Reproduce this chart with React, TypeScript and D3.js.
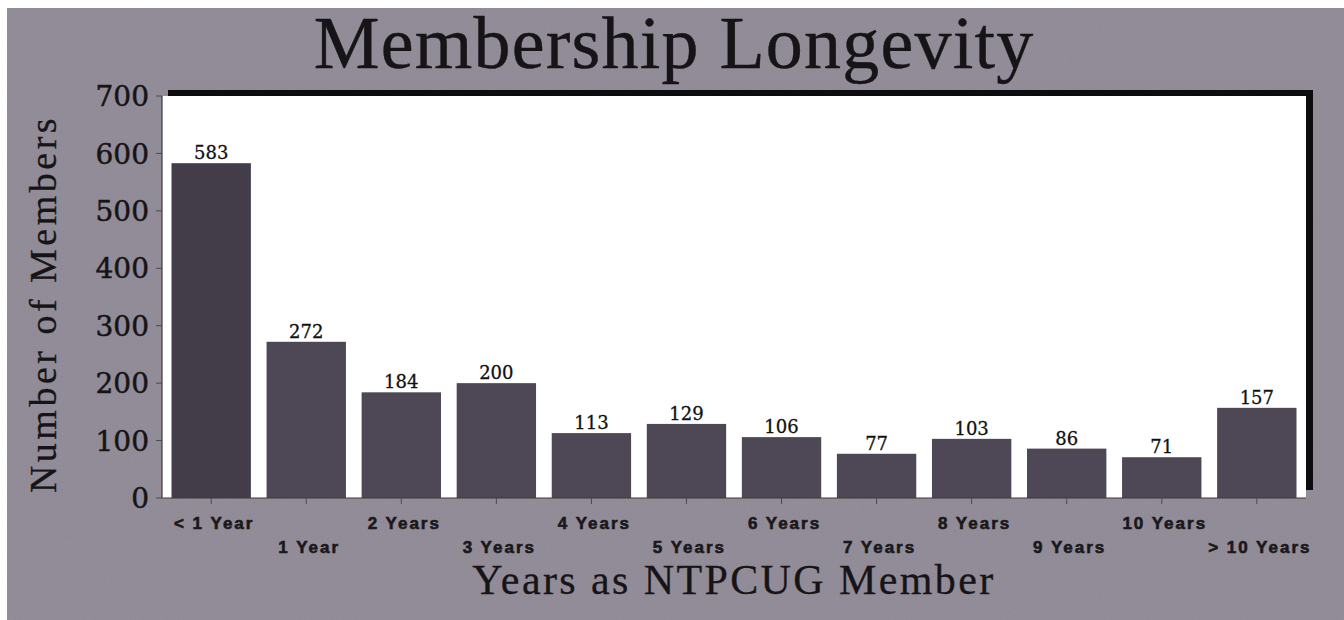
import * as d3 from 'd3';

const categories = ['< 1 Year', '1 Year', '2 Years', '3 Years', '4 Years', '5 Years', '6 Years', '7 Years', '8 Years', '9 Years', '10 Years', '> 10 Years'];
const members = [583, 272, 184, 200, 113, 129, 106, 77, 103, 86, 71, 157];
const yTicks = [0, 100, 200, 300, 400, 500, 600, 700];

const W = 1344;
const H = 620;
const plot = { left: 162, right: 1306, top: 96, bottom: 498 };

const serif = '"Liberation Serif", "Times New Roman", serif';
const bookSerif = '"DejaVu Serif", serif';
const sans = '"Liberation Sans", Arial, sans-serif';
const ink = '#161416';

export default function App() {
  const x = d3.scaleBand<string>()
    .domain(categories)
    .range([plot.left, plot.right])
    .paddingInner(0.165)
    .paddingOuter(0.1);

  const y = d3.scaleLinear()
    .domain([0, 700])
    .range([plot.bottom, plot.top]);

  return (
    <div style={{ position: 'fixed', left: 0, top: 0, width: W, height: H, background: '#fff' }}>
      <svg width={W} height={H} style={{ display: 'block' }}>
        <defs>
          <filter id="grain" x="0" y="0" width="100%" height="100%">
            <feTurbulence type="fractalNoise" baseFrequency="0.9" numOctaves={2} seed={3} result="n" />
            <feColorMatrix type="matrix" values="0 0 0 0 0.5  0 0 0 0 0.48  0 0 0 0 0.55  0 0 0 0.35 0" />
          </filter>
        </defs>

        {/* scanned page background */}
        <rect x={7} y={8} width={W - 7} height={H - 8} fill="#8d8893" />
        <rect x={7} y={8} width={W - 7} height={H - 8} filter="url(#grain)" opacity={0.5} />

        {/* title */}
        <text x={674} y={68} textAnchor="middle" fontFamily={serif} fontSize={74} letterSpacing={1.2}
          fill={ink} stroke={ink} strokeWidth={0.4}>
          Membership Longevity
        </text>

        {/* plot frame with shadow */}
        <rect x={plot.left + 6} y={plot.top - 6} width={plot.right - plot.left + 1} height={plot.bottom - plot.top - 2} fill="#0d0c0e" />
        <rect x={plot.left} y={plot.top} width={plot.right - plot.left} height={plot.bottom - plot.top} fill="#ffffff" />

        {/* bars */}
        {members.map((v, i) => (
          <rect
            key={categories[i]}
            x={x(categories[i])}
            y={y(v)}
            width={x.bandwidth()}
            height={y(0) - y(v)}
            fill={i === 0 ? '#433d4a' : '#4d4756'}
          />
        ))}

        {/* value labels */}
        {members.map((v, i) => (
          <text
            key={'v' + i}
            x={(x(categories[i]) ?? 0) + x.bandwidth() / 2}
            y={y(v) - 4}
            textAnchor="middle"
            fontFamily={bookSerif}
            fontSize={18}
            fill="#111"
            stroke="#111"
            strokeWidth={0.3}
          >
            {v}
          </text>
        ))}

        {/* axes */}
        <line x1={plot.left} x2={plot.left} y1={plot.top} y2={plot.bottom} stroke="#3a3a3a" strokeWidth={1.2} />
        <line x1={plot.left} x2={plot.right} y1={plot.bottom} y2={plot.bottom} stroke="#3a3a3a" strokeWidth={1.2} />

        {yTicks.map(t => (
          <g key={'y' + t}>
            <line x1={plot.left - 6} x2={plot.left} y1={y(t)} y2={y(t)} stroke="#4a4a4a" />
            <text x={plot.left - 13} y={y(t)} dy="0.36em" textAnchor="end" fontFamily={bookSerif} fontSize={28}
              fill={ink} stroke={ink} strokeWidth={0.5}>
              {t}
            </text>
          </g>
        ))}

        {categories.map((c, i) => {
          const cx = (x(c) ?? 0) + x.bandwidth() / 2;
          return (
            <g key={'x' + i}>
              <line x1={cx} x2={cx} y1={plot.bottom} y2={plot.bottom + 6} stroke="#4a4a4a" />
              <text
                x={cx + 3}
                y={i % 2 === 0 ? 529 : 553}
                textAnchor="middle"
                fontFamily={sans}
                fontWeight="bold"
                fontSize={17}
                letterSpacing={2}
                fill="#1a181b"
                stroke="#1a181b"
                strokeWidth={0.6}
              >
                {c}
              </text>
            </g>
          );
        })}

        {/* axis titles */}
        <text
          transform="translate(56,304) rotate(-90)"
          textAnchor="middle"
          fontFamily={serif}
          fontSize={38}
          letterSpacing={3.5}
          fill={ink}
          stroke={ink}
          strokeWidth={0.3}
        >
          Number of Members
        </text>
        <text x={734} y={594} textAnchor="middle" fontFamily={serif} fontSize={42} letterSpacing={2.4}
          fill={ink} stroke={ink} strokeWidth={0.3}>
          Years as NTPCUG Member
        </text>
      </svg>
    </div>
  );
}
